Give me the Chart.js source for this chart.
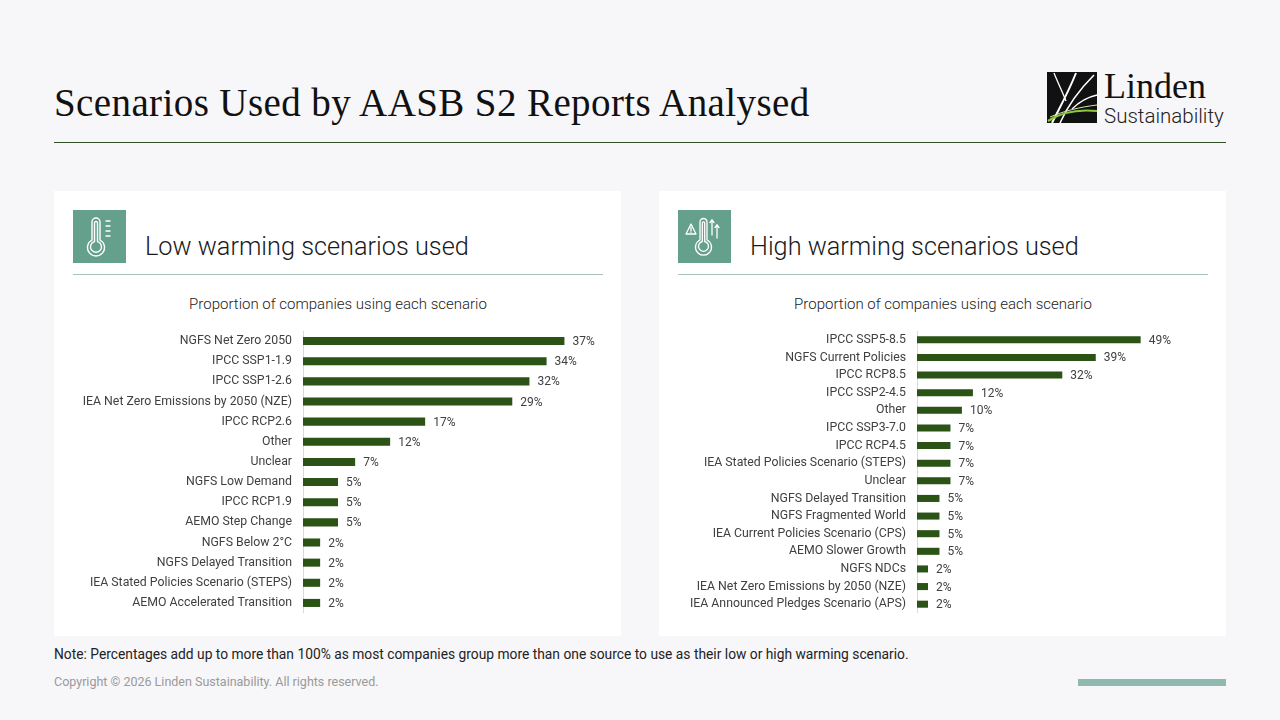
<!DOCTYPE html>
<html>
<head>
<meta charset="utf-8">
<script src="https://cdn.jsdelivr.net/npm/chart.js@4.4.1/dist/chart.umd.min.js"></script>
<style>
  html, body { margin:0; padding:0; }
  body { width:1280px; height:720px; background:#f7f6f9; position:relative; overflow:hidden; font-family:"Roboto", "Noto Sans", sans-serif; }
  .abs { position:absolute; }
  #title { left:54px; top:80px; font-family:"Liberation Serif", "DejaVu Serif", serif; font-size:39px; color:#111; white-space:nowrap; letter-spacing:0.4px; }
  #rule { left:54px; top:142px; width:1172px; height:1px; background:#33502a; }
  .card { background:#fff; top:191px; width:567px; height:445px; }
  .iconbox { width:53px; height:53px; background:#65a08c; top:210px; }
  .heading { top:232px; font-size:25.3px; font-weight:300; color:#1a1a1a; white-space:nowrap; }
  .hrule { top:274px; height:1px; width:530px; background:#a9c2bb; }
  .sub { top:295px; font-size:15px; font-weight:300; color:#222; white-space:nowrap; width:530px; text-align:center; }
  #note { left:54px; top:646px; font-size:13.8px; color:#222; white-space:nowrap; }
  #copy { left:54px; top:674px; font-size:12.5px; color:#9a9a9a; white-space:nowrap; }
  #bar { left:1078px; top:679px; width:148px; height:7px; background:#8fb8ae; }
  canvas { position:absolute; }
</style>
</head>
<body>
<div id="title" class="abs">Scenarios Used by AASB S2 Reports Analysed</div>
<div id="rule" class="abs"></div>

<!-- Logo -->
<svg class="abs" style="left:1046px;top:71px" width="182" height="60" viewBox="0 0 182 60">
  <rect x="1" y="1" width="50" height="51" fill="#111"/>
  <path d="M6 52 C14 36, 22 22, 30 2" stroke="#fff" stroke-width="2" fill="none"/>
  <path d="M14 52 C22 34, 34 18, 48 4" stroke="#fff" stroke-width="1.6" fill="none"/>
  <path d="M20 30 C16 20, 12 12, 8 2" stroke="#fff" stroke-width="1.3" fill="none"/>
  <path d="M26 38 C34 30, 42 26, 51 24" stroke="#fff" stroke-width="1.3" fill="none"/>
  <path d="M2 50 C14 42, 30 38, 51 40" stroke="#8cc63f" stroke-width="2.2" fill="none"/>
  <path d="M4 46 C18 40, 34 36, 51 34" stroke="#cfe8a6" stroke-width="1" fill="none"/>
  <text x="58" y="27" font-family="Liberation Serif, serif" font-size="36" fill="#111">Linden</text>
  <text x="58" y="52" font-family="Roboto, sans-serif" font-size="20.5" font-weight="300" fill="#222">Sustainability</text>
</svg>

<!-- Left card -->
<div class="abs card" style="left:54px"></div>
<div class="abs iconbox" style="left:73px"></div>
<svg class="abs" style="left:73px;top:210px" width="53" height="53" viewBox="0 0 53 53">
  <g stroke="#fff" stroke-width="1.4" fill="none" stroke-linecap="round">
    <path d="M19 30 V12 a4 4 0 0 1 8 0 V30 a8.5 8.5 0 1 1 -8 0 Z"/>
    <path d="M21.5 31.5 V13 a1.5 1.5 0 0 1 3 0 V31.5 a5.5 5.5 0 1 1 -3 0 Z"/>
    <line x1="33" y1="11" x2="37" y2="11"/>
    <line x1="33" y1="16" x2="37" y2="16"/>
    <line x1="33" y1="21" x2="37" y2="21"/>
    <line x1="33" y1="26" x2="37" y2="26"/>
  </g>
</svg>
<div class="abs heading" style="left:145px">Low warming scenarios used</div>
<div class="abs hrule" style="left:73px"></div>
<div class="abs sub" style="left:73px">Proportion of companies using each scenario</div>
<canvas id="lowChart" width="530" height="282" style="left:73px;top:331px"></canvas>

<!-- Right card -->
<div class="abs card" style="left:659px"></div>
<div class="abs iconbox" style="left:678px"></div>
<svg class="abs" style="left:678px;top:210px" width="53" height="53" viewBox="0 0 53 53">
  <g stroke="#fff" stroke-width="1.3" fill="none" stroke-linecap="round" stroke-linejoin="round">
    <path d="M22 30 V12 a3.5 3.5 0 0 1 7 0 V30 a8 8 0 1 1 -7 0 Z"/>
    <path d="M24.3 31.5 V13 a1.2 1.2 0 0 1 2.4 0 V31.5 a5 5 0 1 1 -2.4 0 Z"/>
    <path d="M8 24 L13 14 L18 24 Z"/>
    <line x1="13" y1="17.5" x2="13" y2="20.5"/>
    <line x1="13" y1="22" x2="13" y2="22.3"/>
    <line x1="34" y1="10" x2="34" y2="25"/>
    <path d="M32 12.5 L34 10 L36 12.5"/>
    <line x1="39" y1="15" x2="39" y2="28"/>
    <path d="M37 17.5 L39 15 L41 17.5"/>
  </g>
</svg>
<div class="abs heading" style="left:750px">High warming scenarios used</div>
<div class="abs hrule" style="left:678px"></div>
<div class="abs sub" style="left:678px">Proportion of companies using each scenario</div>
<canvas id="highChart" width="514" height="282" style="left:678px;top:331px"></canvas>

<div id="note" class="abs">Note: Percentages add up to more than 100% as most companies group more than one source to use as their low or high warming scenario.</div>
<div id="copy" class="abs">Copyright © 2026 Linden Sustainability. All rights reserved.</div>
<div id="bar" class="abs"></div>

<script>
// ---- Data ----
const lowLabels = [
  "NGFS Net Zero 2050",
  "IPCC SSP1-1.9",
  "IPCC SSP1-2.6",
  "IEA Net Zero Emissions by 2050 (NZE)",
  "IPCC RCP2.6",
  "Other",
  "Unclear",
  "NGFS Low Demand",
  "IPCC RCP1.9",
  "AEMO Step Change",
  "NGFS Below 2\u00B0C",
  "NGFS Delayed Transition",
  "IEA Stated Policies Scenario (STEPS)",
  "AEMO Accelerated Transition"
];
const lowValues = [36.6, 34.1, 31.7, 29.3, 17.1, 12.2, 7.3, 4.9, 4.9, 4.9, 2.4, 2.4, 2.4, 2.4];

const highLabels = [
  "IPCC SSP5-8.5",
  "NGFS Current Policies",
  "IPCC RCP8.5",
  "IPCC SSP2-4.5",
  "Other",
  "IPCC SSP3-7.0",
  "IPCC RCP4.5",
  "IEA Stated Policies Scenario (STEPS)",
  "Unclear",
  "NGFS Delayed Transition",
  "NGFS Fragmented World",
  "IEA Current Policies Scenario (CPS)",
  "AEMO Slower Growth",
  "NGFS NDCs",
  "IEA Net Zero Emissions by 2050 (NZE)",
  "IEA Announced Pledges Scenario (APS)"
];
const highValues = [48.8, 39.0, 31.7, 12.2, 9.8, 7.3, 7.3, 7.3, 7.3, 4.9, 4.9, 4.9, 4.9, 2.4, 2.4, 2.4];

const BAR_COLOR = "#2a5315";
const FONT = "Roboto, 'Noto Sans', sans-serif";

const valueLabels = {
  id: "valueLabels",
  afterDatasetsDraw(chart) {
    const ctx = chart.ctx;
    const meta = chart.getDatasetMeta(0);
    const data = chart.data.datasets[0].data;
    ctx.save();
    ctx.font = "12px " + FONT;
    ctx.fillStyle = "#404040";
    ctx.textAlign = "left";
    ctx.textBaseline = "middle";
    meta.data.forEach((bar, i) => {
      ctx.fillText(Math.round(data[i]) + "%", bar.x + 8, bar.y + 1);
    });
    ctx.restore();
  }
};

function makeChart(id, labels, values, yWidth, xMax, pct) {
  return new Chart(document.getElementById(id), {
    type: "bar",
    data: {
      labels: labels,
      datasets: [{
        data: values,
        backgroundColor: BAR_COLOR,
        borderWidth: 0,
        categoryPercentage: 1,
        barPercentage: pct
      }]
    },
    options: {
      indexAxis: "y",
      responsive: false,
      maintainAspectRatio: false,
      animation: false,
      devicePixelRatio: 1,
      layout: { autoPadding: false, padding: 0 },
      plugins: { legend: { display: false }, tooltip: { enabled: false }, title: { display: false } },
      scales: {
        x: {
          display: false,
          min: 0,
          max: xMax
        },
        y: {
          afterFit(scale) {
            scale.width = yWidth;
            scale.paddingTop = 0;
            scale.paddingBottom = 0;
          },
          grid: { display: false, drawTicks: false },
          border: { display: true, color: "#d9d9d9", width: 1 },
          ticks: {
            color: "#404040",
            padding: 11,
            autoSkip: false,
            maxRotation: 0,
            minRotation: 0,
            font: { size: 12.3, family: FONT }
          }
        }
      }
    },
    plugins: [valueLabels]
  });
}

makeChart("lowChart", lowLabels, lowValues, 230, 42, 0.4);
makeChart("highChart", highLabels, highValues, 239, 60, 0.4);
</script>
</body>
</html>
